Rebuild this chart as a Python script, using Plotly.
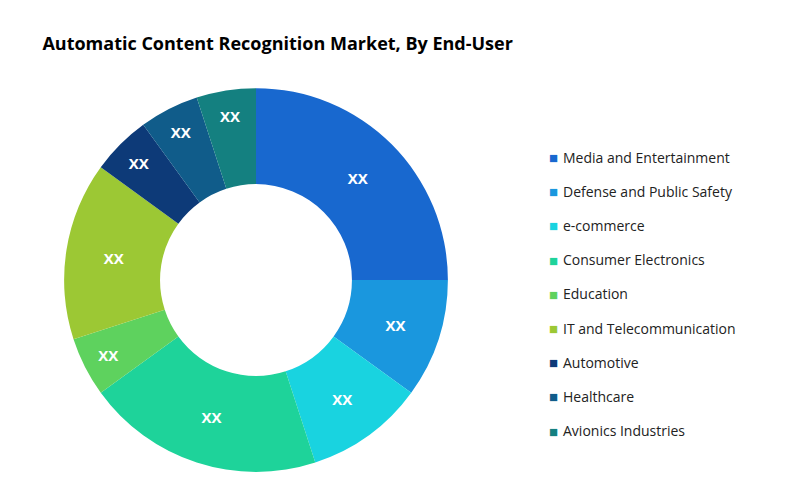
import plotly.graph_objects as go

labels = ["Media and Entertainment", "Defense and Public Safety", "e-commerce",
          "Consumer Electronics", "Education", "IT and Telecommunication",
          "Automotive", "Healthcare", "Avionics Industries"]
values = [25, 10, 10, 20, 5, 15, 5, 5, 5]
texts = ["<b>XX</b>"] * len(labels)
colors = ["#1868CF", "#1A97DE", "#19D3E0", "#1ED39A", "#5ED25E", "#9CC834",
          "#0D3A78", "#105C8A", "#148080"]

fig = go.Figure(go.Pie(
    labels=labels, values=values, text=texts, textinfo="text",
    hole=0.5, sort=False, direction="clockwise", rotation=0,
    marker=dict(colors=colors, line=dict(width=0)),
    textfont=dict(color="white", size=15, family="Open Sans"),
    insidetextorientation="horizontal", showlegend=False,
    domain=dict(x=[0.07, 0.55], y=[0.074, 0.84]),
))

annotations = []
y0, step = 501 - 149, 34.2
for i, (lab, col) in enumerate(zip(labels, colors)):
    yy = (y0 - i * step) / 501
    annotations.append(dict(x=545 / 800, y=yy, xref="paper", yref="paper",
                            text="■", showarrow=False, xanchor="center", yanchor="middle",
                            font=dict(size=15, color=col)))
    annotations.append(dict(x=553 / 800, y=yy, xref="paper", yref="paper",
                            text=lab, showarrow=False, xanchor="left", yanchor="middle",
                            font=dict(size=14, color="#222", family="Open Sans")))

fig.update_layout(
    width=800, height=501, paper_bgcolor="white", plot_bgcolor="white",
    margin=dict(l=0, r=0, t=0, b=0),
    title=dict(text="<b>Automatic Content Recognition Market, By End-User</b>",
               x=0.043, y=0.928, xanchor="left", yanchor="middle",
               font=dict(size=18, color="black", family="Open Sans")),
    annotations=annotations,
    font=dict(family="Open Sans"),
)
fig.write_html("out.html")
